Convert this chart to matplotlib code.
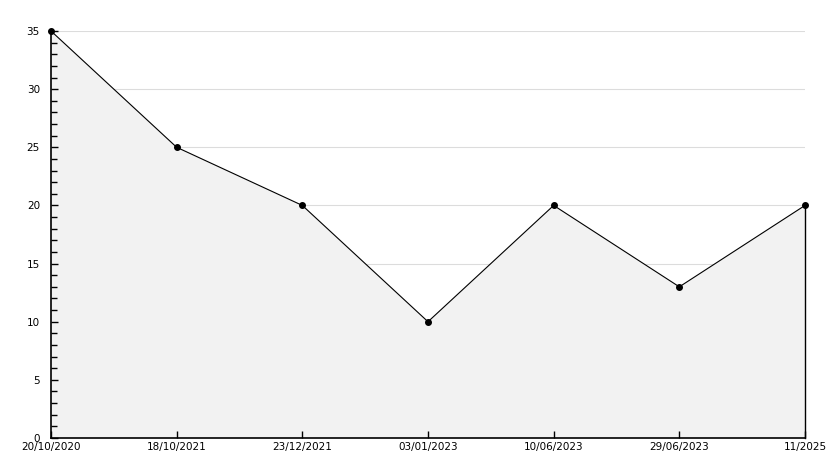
import matplotlib
matplotlib.use("Agg")
import matplotlib.pyplot as plt
from matplotlib.ticker import MultipleLocator

labels = ["20/10/2020", "18/10/2021", "23/12/2021", "03/01/2023", "10/06/2023", "29/06/2023", "11/2025"]
values = [35, 25, 20, 10, 20, 13, 20]
grid_levels = [5, 10, 15, 20, 25, 30, 35]

fig = plt.figure(figsize=(8.34, 4.68), dpi=100)
ax = fig.add_axes([51/834, 30/468, (805-51)/834, (438-31)/468])
x = list(range(len(values)))

for g in grid_levels:
    ax.axhline(g, color="#dcdcdc", lw=0.8, zorder=0)
ax.fill_between(x, values, 0, facecolor="#f2f2f2", edgecolor="none", zorder=1)
ax.plot([x[-1], x[-1]], [0, values[-1]], color="black", lw=1.0, zorder=2, clip_on=False)
ax.plot(x, values, color="black", lw=0.8, marker="o", markersize=4, zorder=3, clip_on=False)

ax.set_xlim(0, len(values) - 1)
ax.set_ylim(0, 35)
ax.set_xticks(x)
ax.set_xticklabels(labels)
ax.yaxis.set_major_locator(MultipleLocator(5))
ax.yaxis.set_minor_locator(MultipleLocator(1))
ax.set_axisbelow(False)
for s in ["top", "right"]:
    ax.spines[s].set_visible(False)
ax.spines["left"].set_linewidth(1.2)
ax.spines["bottom"].set_linewidth(1.2)
ax.tick_params(axis="both", which="major", direction="in", labelsize=7.5, length=5, width=1, color="black")
ax.tick_params(axis="y", which="minor", direction="in", length=4, width=1, color="black", left=True)
ax.tick_params(axis="y", which="major", pad=8)
ax.tick_params(axis="x", which="major", pad=3)

fig.savefig("out.png", dpi=100)
